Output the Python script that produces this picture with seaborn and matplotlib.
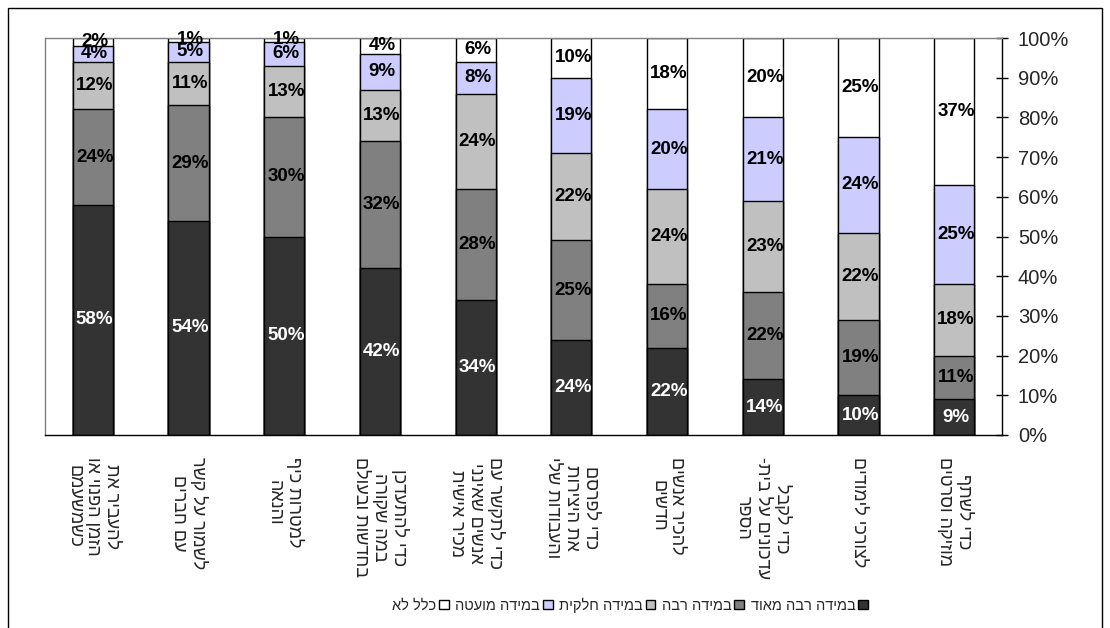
import numpy as np
import pandas as pd
import seaborn as sb
from matplotlib import pyplot as plt
from matplotlib.patches import Rectangle, Patch

# categories (logical Hebrew order, reversed later for display)
categories = [
    "להעביר את\nהזמן הפנוי או\nכשמשעמם",
    "לשמור על קשר\nעם חברים",
    "למטרות כיף\nוהנאה",
    "כדי להתעדכן\nבמה שקורה\nבחדשות ובעולם",
    "כדי לתקשר עם\nאנשים שאינני\nמכיר אישית",
    "כדי לפרסם\nאת היצירות\nוהעבודות שלי",
    "להכיר אנשים\nחדשים",
    "כדי לקבל\nעדכונים על בית-\nהספר",
    "לצורכי לימודים",
    "כדי לשתף\nמוזיקה וסרטים",
]
series_names = ["במידה רבה מאוד", "במידה רבה", "במידה חלקית", "במידה מועטה", "כלל לא"]
very_much = [58, 54, 50, 42, 34, 24, 22, 14, 10, 9]
much = [24, 29, 30, 32, 28, 25, 16, 22, 19, 11]
partly = [12, 11, 13, 13, 24, 22, 24, 23, 22, 18]
little = [4, 5, 6, 9, 8, 19, 20, 21, 24, 25]
not_at_all = [2, 1, 1, 4, 6, 10, 18, 20, 25, 37]
y_ticks = [0, 10, 20, 30, 40, 50, 60, 70, 80, 90, 100]

colors = ['#333333', '#808080', '#c0c0c0', '#ccccff', '#ffffff']
text_colors = ['white', 'black', 'black', 'black', 'black']


def rtl(s):
    # matplotlib has no bidi support, draw hebrew lines in visual order
    return '\n'.join(line[::-1] for line in s.split('\n'))


sb.set_style('white')
plt.rcParams['font.family'] = ['Liberation Sans', 'DejaVu Sans']

W, H = 1110, 628
fig = plt.figure(figsize=(W / 100, H / 100), dpi=100)
ax = fig.add_axes([45 / W, (H - 435) / H, (1002 - 45) / W, (435 - 38) / H])

series = [very_much, much, partly, little, not_at_all]
df = pd.DataFrame({name: vals for name, vals in zip(series_names, series)})
df['cat'] = [str(i) for i in range(len(categories))]
cum = df[series_names].cumsum(axis=1)

# stacked bars: draw cumulative totals from the top down
for k in range(len(series_names) - 1, -1, -1):
    sb.barplot(x=df['cat'], y=cum[series_names[k]], color=colors[k], width=0.42,
               edgecolor='black', linewidth=1, saturation=1, ax=ax)

# value labels
for k, name in enumerate(series_names):
    bottoms = cum[name] - df[name]
    for i in range(len(categories)):
        v = df[name][i]
        ax.text(i + 0.02, bottoms[i] + v / 2, f'{v}%', ha='center', va='center',
                fontsize=13.5, fontweight='bold', color=text_colors[k],
                family=['Liberation Sans'])

ax.set_xlim(-0.5, len(categories) - 0.5)
ax.set_ylim(0, 100)
ax.set_xlabel('')
ax.set_ylabel('')

# right hand y axis
ax.yaxis.tick_right()
ax.set_yticks(y_ticks)
ax.set_yticklabels([f'{t}%' for t in y_ticks], fontsize=14.5)
ax.tick_params(axis='y', direction='inout', length=9, width=1, color='black', pad=7, left=False, right=True)

# x axis: boundary ticks, labels rotated
ax.set_xticks(np.arange(len(categories)))
ax.set_xticklabels([rtl(c) for c in categories], rotation=270, ha='center', va='top',
                   multialignment='center', fontsize=13, linespacing=1.15)
ax.tick_params(axis='x', length=0, pad=16)
ax.set_xticks(np.arange(-0.5, len(categories)), minor=True)
ax.tick_params(axis='x', which='minor', direction='out', length=8, width=1, color='black')

for side in ['top', 'left']:
    ax.spines[side].set_color('#808080')
    ax.spines[side].set_linewidth(1)
for side in ['bottom', 'right']:
    ax.spines[side].set_color('black')
    ax.spines[side].set_linewidth(1)

# legend: rtl order, box to the right of the text
handles = [Patch(facecolor=colors[k], edgecolor='black', linewidth=1) for k in range(len(series_names) - 1, -1, -1)]
labels = [rtl(series_names[k]) for k in range(len(series_names) - 1, -1, -1)]
fig.legend(handles, labels, loc='center', bbox_to_anchor=(630 / W, 1 - 605 / H), ncol=5,
           markerfirst=False, frameon=False, fontsize=10.5, handlelength=0.65, handleheight=0.65,
           handletextpad=0.2, columnspacing=0.45, borderpad=0)

# outer chart frame
fig.patches.append(Rectangle((8 / W, -0.05), (1102 - 8) / W, 1.05 - 8 / H, transform=fig.transFigure,
                             fill=False, edgecolor='black', linewidth=1))

fig.savefig('out.png', dpi=100)
